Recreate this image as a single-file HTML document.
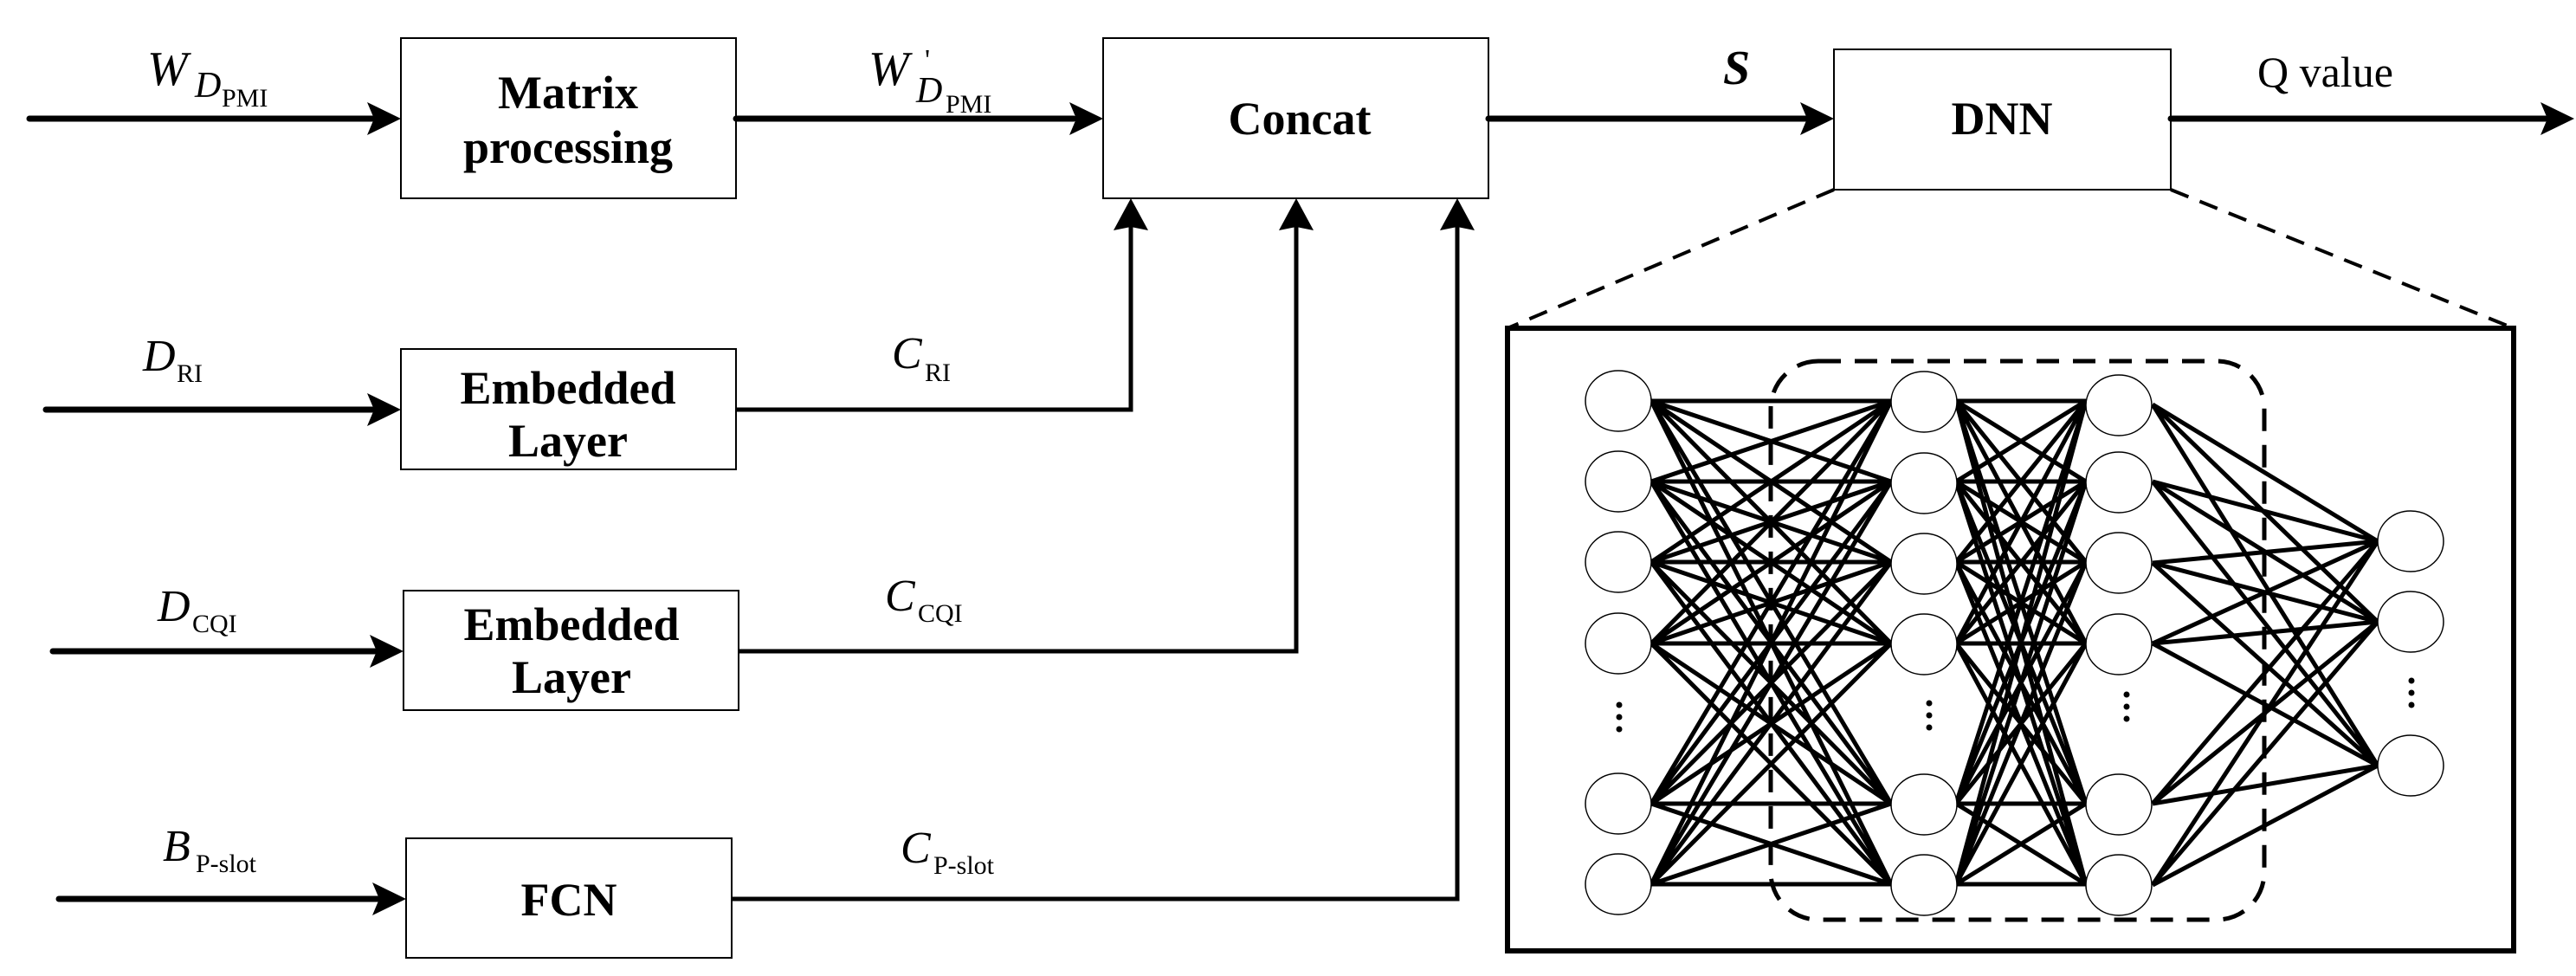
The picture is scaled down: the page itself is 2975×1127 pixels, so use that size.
<!DOCTYPE html>
<html><head><meta charset="utf-8"><style>
html,body{margin:0;padding:0;background:#fff;}
svg{display:block;}
.b{font-family:"Liberation Serif",serif;font-weight:bold;font-size:54px;}
.i{font-family:"Liberation Serif",serif;font-style:italic;}
.r{font-family:"Liberation Serif",serif;}
</style></head><body>
<svg width="2975" height="1127" viewBox="0 0 2975 1127" xmlns="http://www.w3.org/2000/svg">
<g fill="none" stroke="#000" stroke-width="2">
<rect x="463" y="44" width="387" height="185"/>
<rect x="1274" y="44" width="445" height="185"/>
<rect x="2118" y="57" width="389" height="162"/>
<rect x="463" y="403" width="387" height="139"/>
<rect x="466" y="682" width="387" height="138"/>
<rect x="469" y="968" width="376" height="138"/>
</g>
<g stroke="#000" stroke-width="7" stroke-linecap="round">
<line x1="34" y1="137" x2="430" y2="137"/>
<line x1="850" y1="137" x2="1240" y2="137"/>
<line x1="1719" y1="137" x2="2085" y2="137"/>
<line x1="2507" y1="137" x2="2940" y2="137"/>
<line x1="53" y1="473" x2="430" y2="473"/>
<line x1="61" y1="752" x2="433" y2="752"/>
<line x1="68" y1="1038" x2="436" y2="1038"/>
</g>
<g fill="#000">
<polygon points="463,137 424,118 432,137 424,156"/>
<polygon points="1274,137 1235,118 1243,137 1235,156"/>
<polygon points="2118,137 2079,118 2087,137 2079,156"/>
<polygon points="2973,137 2934,118 2942,137 2934,156"/>
<polygon points="463,473 424,454 432,473 424,492"/>
<polygon points="466,752 427,733 435,752 427,771"/>
<polygon points="469,1038 430,1019 438,1038 430,1057"/>
<polygon points="1306,229 1286,266 1306,262 1326,266"/>
<polygon points="1497,229 1477,266 1497,262 1517,266"/>
<polygon points="1683,229 1663,266 1683,262 1703,266"/>
</g>
<g fill="none" stroke="#000" stroke-width="5">
<polyline points="850,473 1306,473 1306,262"/>
<polyline points="853,752 1497,752 1497,262"/>
<polyline points="845,1038 1683,1038 1683,262"/>
</g>
<g class="b" text-anchor="middle">
<text x="656" y="125">Matrix</text>
<text x="656" y="188">processing</text>
<text x="1501" y="155">Concat</text>
<text x="2312" y="155">DNN</text>
<text x="656" y="466">Embedded</text>
<text x="656" y="527">Layer</text>
<text x="660" y="739">Embedded</text>
<text x="660" y="800">Layer</text>
<text x="657" y="1057">FCN</text>
</g>
<text class="i" x="170" y="98" font-size="56">W</text>
<text class="i" x="225" y="112" font-size="42">D</text>
<text class="r" x="256" y="123" font-size="30">PMI</text>
<text class="i" x="1003" y="98" font-size="56">W</text>
<text class="r" x="1068" y="80" font-size="34">'</text>
<text class="i" x="1058" y="118" font-size="42">D</text>
<text class="r" x="1092" y="130" font-size="30">PMI</text>
<text class="i" x="1990" y="97" font-size="56" font-weight="bold">S</text>
<text class="r" x="2607" y="100" font-size="50">Q value</text>
<text class="i" x="165" y="428" font-size="52">D</text>
<text class="r" x="204" y="441" font-size="30">RI</text>
<text class="i" x="1030" y="425" font-size="52">C</text>
<text class="r" x="1068" y="440" font-size="30">RI</text>
<text class="i" x="182" y="717" font-size="52">D</text>
<text class="r" x="222" y="730" font-size="30">CQI</text>
<text class="i" x="1022" y="705" font-size="52">C</text>
<text class="r" x="1060" y="718" font-size="30">CQI</text>
<text class="i" x="188" y="994" font-size="52">B</text>
<text class="r" x="226" y="1007" font-size="30">P-slot</text>
<text class="i" x="1040" y="996" font-size="52">C</text>
<text class="r" x="1078" y="1009" font-size="30">P-slot</text>
<g stroke="#000" stroke-width="4" stroke-dasharray="22,14" fill="none">
<line x1="2118" y1="219" x2="1741" y2="379"/>
<line x1="2507" y1="219" x2="2903" y2="379"/>
</g>
<rect x="1741" y="379" width="1162" height="719" fill="none" stroke="#000" stroke-width="6"/>
<g stroke="#000" stroke-width="5" fill="none">
<path d="
M1907 463L2184 463M1907 463L2184 556M1907 463L2184 649M1907 463L2184 743M1907 463L2184 928M1907 463L2184 1021
M1907 556L2184 463M1907 556L2184 556M1907 556L2184 649M1907 556L2184 743M1907 556L2184 928M1907 556L2184 1021
M1907 649L2184 463M1907 649L2184 556M1907 649L2184 649M1907 649L2184 743M1907 649L2184 928M1907 649L2184 1021
M1907 743L2184 463M1907 743L2184 556M1907 743L2184 649M1907 743L2184 743M1907 743L2184 928M1907 743L2184 1021
M1907 928L2184 463M1907 928L2184 556M1907 928L2184 649M1907 928L2184 743M1907 928L2184 928M1907 928L2184 1021
M1907 1021L2184 463M1907 1021L2184 556M1907 1021L2184 649M1907 1021L2184 743M1907 1021L2184 928M1907 1021L2184 1021
M2259 463L2409 463M2259 463L2409 556M2259 463L2409 649M2259 463L2409 743M2259 463L2409 928M2259 463L2409 1021
M2259 556L2409 463M2259 556L2409 556M2259 556L2409 649M2259 556L2409 743M2259 556L2409 928M2259 556L2409 1021
M2259 649L2409 463M2259 649L2409 556M2259 649L2409 649M2259 649L2409 743M2259 649L2409 928M2259 649L2409 1021
M2259 743L2409 463M2259 743L2409 556M2259 743L2409 649M2259 743L2409 743M2259 743L2409 928M2259 743L2409 1021
M2259 928L2409 463M2259 928L2409 556M2259 928L2409 649M2259 928L2409 743M2259 928L2409 928M2259 928L2409 1021
M2259 1021L2409 463M2259 1021L2409 556M2259 1021L2409 649M2259 1021L2409 743M2259 1021L2409 928M2259 1021L2409 1021
M2486 467L2746 625M2486 467L2746 718M2486 467L2746 884
M2486 556L2746 625M2486 556L2746 718M2486 556L2746 884
M2486 650L2746 625M2486 650L2746 718M2486 650L2746 884
M2486 743L2746 625M2486 743L2746 718M2486 743L2746 884
M2486 928L2746 625M2486 928L2746 718M2486 928L2746 884
M2486 1022L2746 625M2486 1022L2746 718M2486 1022L2746 884"/>
</g>
<rect x="2045" y="417" width="570" height="645" rx="55" ry="55" fill="none" stroke="#000" stroke-width="5" stroke-dasharray="26,16"/>
<g fill="#fff" stroke="#000" stroke-width="1.5">
<ellipse cx="1869" cy="463" rx="38" ry="35"/><ellipse cx="1869" cy="556" rx="38" ry="35"/><ellipse cx="1869" cy="649" rx="38" ry="35"/><ellipse cx="1869" cy="743" rx="38" ry="35"/><ellipse cx="1869" cy="928" rx="38" ry="35"/><ellipse cx="1869" cy="1021" rx="38" ry="35"/>
<ellipse cx="2222" cy="464" rx="38" ry="35"/><ellipse cx="2222" cy="558" rx="38" ry="35"/><ellipse cx="2222" cy="651" rx="38" ry="35"/><ellipse cx="2222" cy="744" rx="38" ry="35"/><ellipse cx="2222" cy="929" rx="38" ry="35"/><ellipse cx="2222" cy="1022" rx="38" ry="35"/>
<ellipse cx="2447" cy="468" rx="38" ry="35"/><ellipse cx="2447" cy="557" rx="38" ry="35"/><ellipse cx="2447" cy="650" rx="38" ry="35"/><ellipse cx="2447" cy="744" rx="38" ry="35"/><ellipse cx="2447" cy="929" rx="38" ry="35"/><ellipse cx="2447" cy="1022" rx="38" ry="35"/>
<ellipse cx="2784" cy="625" rx="38" ry="35"/><ellipse cx="2784" cy="718" rx="38" ry="35"/><ellipse cx="2784" cy="884" rx="38" ry="35"/>
</g>
<g fill="#000">
<circle cx="1870" cy="814" r="3.5"/><circle cx="1870" cy="828" r="3.5"/><circle cx="1870" cy="842" r="3.5"/>
<circle cx="2228" cy="812" r="3.5"/><circle cx="2228" cy="826" r="3.5"/><circle cx="2228" cy="840" r="3.5"/>
<circle cx="2456" cy="802" r="3.5"/><circle cx="2456" cy="816" r="3.5"/><circle cx="2456" cy="830" r="3.5"/>
<circle cx="2785" cy="786" r="3.5"/><circle cx="2785" cy="800" r="3.5"/><circle cx="2785" cy="814" r="3.5"/>
</g>
</svg>
</body></html>
